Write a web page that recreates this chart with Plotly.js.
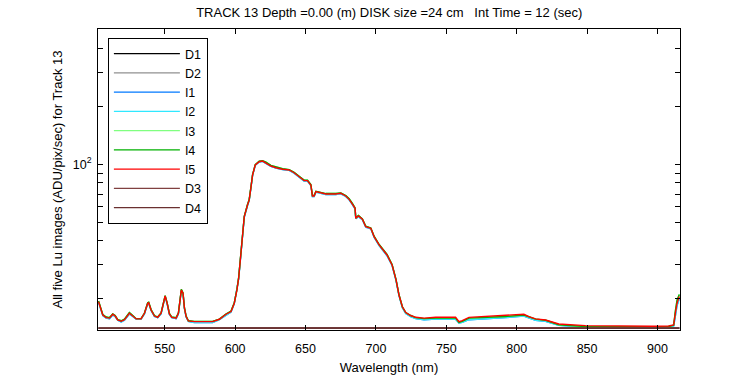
<!DOCTYPE html>
<html>
<head>
<meta charset="utf-8">
<script src="https://cdn.plot.ly/plotly-3.0.1.min.js"></script>
<style>html,body{margin:0;padding:0;background:#fff;}#chart{width:750px;height:375px;}</style>
</head>
<body>
<div id="chart"></div>
<script>
// Wavelength samples (nm) for the Lu spectra
const wavelength = [503.0,506.0,508.4,510.8,513.1,514.8,516.6,519.1,521.4,524.9,527.3,529.7,533.2,535.6,537.9,538.6,540.3,542.7,545.0,547.4,549.1,550.3,551.7,553.3,555.0,558.1,559.7,560.9,561.8,563.0,564.0,565.2,566.8,571.0,584.0,588.8,593.5,597.1,599.4,601.3,602.5,603.7,605.3,606.5,608.8,610.0,611.3,612.4,614.3,617.1,619.5,621.9,625.4,629.0,633.7,638.4,641.9,645.5,649.0,651.4,653.8,654.9,656.1,657.4,659.7,664.4,671.5,675.1,678.6,681.0,683.3,685.2,685.7,687.6,690.4,692.8,696.4,698.7,702.3,707.9,711.5,714.3,716.4,717.6,718.8,721.2,724.7,728.3,734.2,742.5,756.6,759.0,761.3,766.1,775.5,792.1,805.1,808.6,813.4,820.5,825.2,829.9,848.8,870.1,896.1,907.9,911.5,912.7,913.9,915.5];
// Lu values (ADU/pix/sec), the five images are nearly identical
const luI5 = [19.25,16.4,15.9,15.8,16.55,16.2,15.45,15.2,15.5,16.75,16.2,15.65,15.65,16.75,18.9,19.0,17.4,16.2,15.95,16.75,18.9,20.6,18.9,16.6,15.95,15.8,16.75,20.05,22.15,21.3,17.8,16.1,15.27,15.14,15.14,15.58,16.55,17.08,18.9,22.15,25.5,31.75,42.8,53.35,61.4,65.2,76.4,88.0,99.2,103.2,104.0,101.9,98.0,96.0,94.2,93.4,90.4,86.2,82.2,82.2,78.0,68.4,68.4,72.0,71.5,70.0,70.0,70.6,68.4,65.7,62.1,59.0,52.3,53.8,51.7,47.3,46.4,42.0,38.0,33.7,29.9,25.0,20.85,19.65,18.1,16.9,16.3,15.95,15.8,15.95,15.95,15.14,15.33,15.95,16.1,16.3,16.55,16.1,15.65,15.45,15.09,14.73,14.43,14.33,14.33,14.38,14.55,16.75,18.9,20.5];
const luI4 = [19.4,16.5,16.0,15.9,16.6,16.3,15.5,15.3,15.6,16.9,16.3,15.7,15.7,16.8,19.0,19.1,17.5,16.3,16.0,16.8,19.0,20.7,19.0,16.7,16.0,15.9,16.8,20.2,22.3,21.4,17.9,16.2,15.3,15.2,15.2,15.6,16.6,17.2,19.0,22.3,25.7,32.0,43.1,53.6,61.7,65.5,76.8,88.4,99.6,103.8,104.5,102.6,98.8,96.7,94.8,93.9,90.9,86.7,82.7,82.6,78.4,68.8,68.8,72.4,71.9,70.4,70.5,71.0,68.8,66.1,62.5,59.3,52.6,54.1,52.0,47.6,46.6,42.2,38.2,33.9,30.1,25.1,20.9,19.7,18.1,16.9,16.3,15.9,15.7,15.8,15.8,15.0,15.2,15.8,15.9,16.1,16.4,16.0,15.6,15.4,15.0,14.6,14.3,14.25,14.25,14.3,14.5,17.2,19.6,21.0];
const luI2 = [19.1,16.3,15.8,15.7,16.4,16.1,15.4,15.1,15.4,16.6,16.1,15.6,15.6,16.6,18.8,18.9,17.3,16.1,15.9,16.6,18.8,20.4,18.8,16.5,15.9,15.7,16.6,19.9,22.0,21.2,17.7,16.0,15.2,15.0,15.0,15.5,16.4,17.0,18.8,22.0,25.3,31.5,42.5,53.0,61.0,64.9,76.0,87.6,98.8,102.8,103.6,101.5,97.6,95.6,93.8,93.0,90.0,85.8,81.8,81.8,77.6,68.0,68.0,71.6,71.1,69.6,69.6,70.2,68.0,65.3,61.7,58.6,52.0,53.4,51.4,47.0,46.1,41.7,37.7,33.4,29.7,24.8,20.7,19.5,17.9,16.7,16.1,15.7,15.5,15.6,15.6,14.9,15.0,15.5,15.6,15.9,16.2,15.8,15.4,15.2,14.9,14.5,14.2,14.15,14.15,14.2,14.4,16.2,18.4,20.0];
const luI1 = luI2;
const luI3 = luI4;
// Dark frames
const darkWavelength = [503.0, 600.0, 700.0, 800.0, 900.0, 915.5];
const darkD1 = [14.0, 14.0, 14.0, 14.0, 14.0, 14.0];
const darkD2 = [14.08, 14.08, 14.08, 14.08, 14.1, 14.1];
const darkD3 = [14.04, 14.04, 14.04, 14.04, 14.05, 14.05];
const darkD4 = [14.02, 14.02, 14.02, 14.02, 14.03, 14.03];

const xTicks = [550, 600, 650, 700, 750, 800, 850, 900];
const yTicks = [20, 30, 40, 50, 60, 70, 80, 90, 100, 200, 300, 400];
const yTickText = ['', '', '', '', '', '', '', '', '10<sup>2</sup>', '', '', ''];

const series = [
  {name: 'D1', x: darkWavelength, y: darkD1, color: '#000000'},
  {name: 'D2', x: darkWavelength, y: darkD2, color: '#909090'},
  {name: 'I1', x: wavelength, y: luI1, color: '#0078ff'},
  {name: 'I2', x: wavelength, y: luI2, color: '#30e8ff'},
  {name: 'I3', x: wavelength, y: luI3, color: '#80ff80'},
  {name: 'I4', x: wavelength, y: luI4, color: '#00b000'},
  {name: 'I5', x: wavelength, y: luI5, color: '#ff0000'},
  {name: 'D3', x: darkWavelength, y: darkD3, color: '#804040'},
  {name: 'D4', x: darkWavelength, y: darkD4, color: '#6a3030'}
];

const traces = series.map(s => ({
  type: 'scatter', mode: 'lines', name: s.name, x: s.x, y: s.y,
  line: {color: s.color, width: 1.4}
}));

const fam = 'Arial, "Liberation Sans", sans-serif';
const font = {family: fam, size: 12.5, color: '#000'};
const titleFont = {family: fam, size: 13, color: '#000'};

const layout = {
  width: 750, height: 375,
  margin: {l: 98, r: 70, t: 29, b: 45, pad: 0},
  paper_bgcolor: '#fff', plot_bgcolor: '#fff',
  font: font,
  title: {text: 'TRACK 13 Depth =0.00 (m) DISK size =24 cm\u00a0\u00a0\u00a0Int Time = 12 (sec)', font: titleFont, x: 0.519, xanchor: 'center', y: 0.968, yanchor: 'middle'},
  xaxis: {
    range: [502.6, 916], tickvals: xTicks, ticktext: xTicks.map(String),
    ticks: 'inside', ticklen: 5, tickcolor: '#000', showline: true, linecolor: '#000', linewidth: 1,
    mirror: 'ticks', showgrid: false, zeroline: false, tickfont: font, ticklabelstandoff: 7,
    title: {text: 'Wavelength (nm)', font: titleFont, standoff: 8}
  },
  yaxis: {
    type: 'log', range: [Math.log10(13.7), Math.log10(507)],
    tickmode: 'array', tickvals: yTicks, ticktext: yTickText,
    ticks: 'inside', ticklen: 5, tickcolor: '#000', showline: true, linecolor: '#000', linewidth: 1,
    mirror: 'ticks', showgrid: false, zeroline: false, tickfont: font, ticklabelstandoff: 3,
    title: {text: 'All five Lu images (ADU/pix/sec) for Track 13', font: titleFont, standoff: 7}
  },
  showlegend: true,
  legend: {
    x: 0.017, y: 0.97, xanchor: 'left', yanchor: 'top',
    bgcolor: '#fff', bordercolor: '#000', borderwidth: 1,
    font: {family: fam, size: 12.5, color: '#000'},
    itemwidth: 66, tracegroupgap: 0
  }
};

Plotly.newPlot('chart', traces, layout, {displayModeBar: false, staticPlot: true});
</script>
</body>
</html>
